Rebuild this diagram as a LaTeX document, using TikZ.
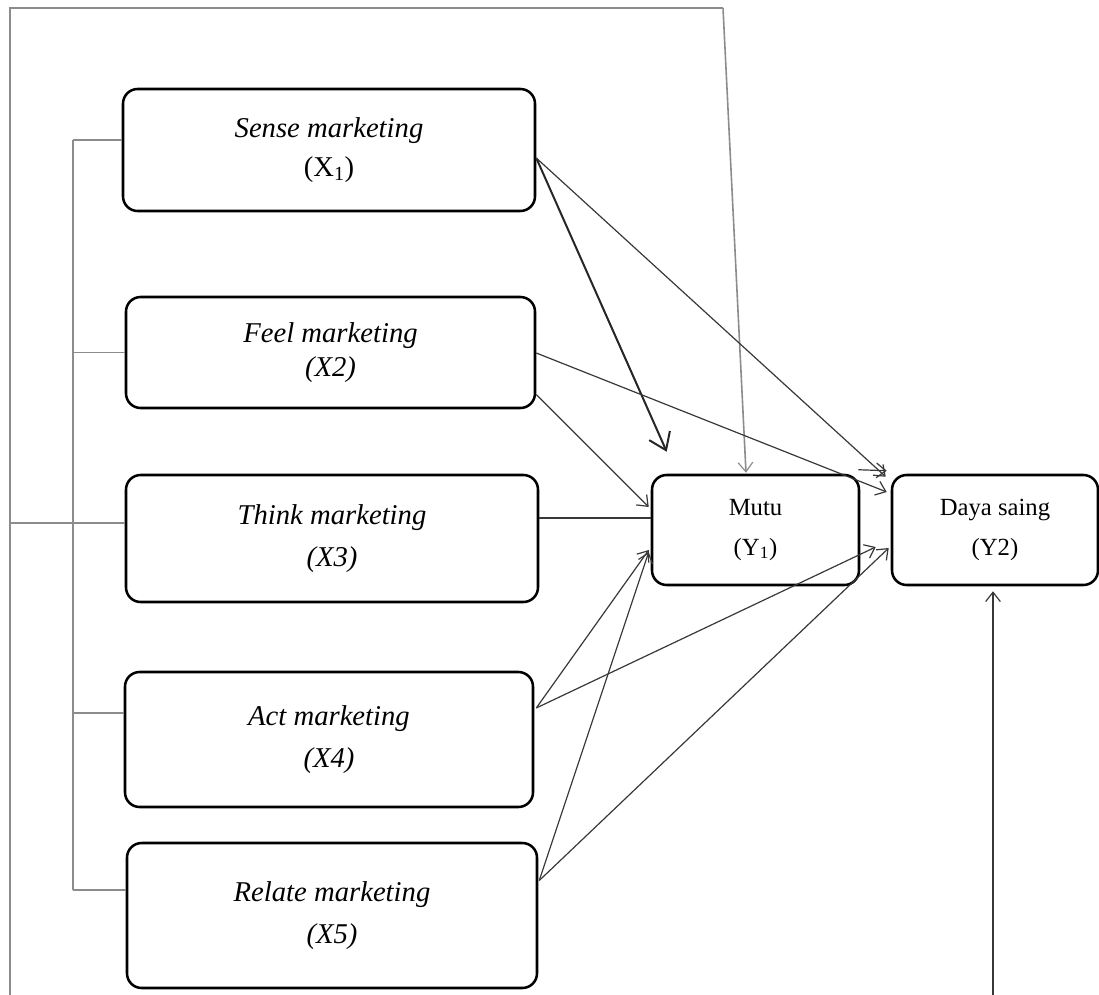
\documentclass[tikz,border=0pt]{standalone}
\usepackage{fontspec}
\setmainfont{Liberation Serif}
\usetikzlibrary{arrows.meta,calc}

\begin{document}
\begin{tikzpicture}[x=0.75pt,y=-0.75pt,
  box/.style={draw=black,line width=1.9pt,rounded corners=11pt,inner sep=0pt,align=center},
  srcbox/.style={box,font=\fontsize{21.5}{32}\selectfont\itshape},
  tgtbox/.style={box,font=\fontsize{18.5}{30}\selectfont},
  link/.style={draw=black!78,line width=0.9pt},
  arr/.style={link,-{Straight Barb[length=7pt,width=11pt,line width=0.9pt]}},
  boldarr/.style={draw=black!85,line width=1.5pt,-{Straight Barb[length=12pt,width=17pt,line width=1.5pt]}},
  frame/.style={draw=black!45,line width=1.2pt},
]
\useasboundingbox (0,0) rectangle (1099,995);

% source constructs
\node[srcbox,minimum width=309pt,minimum height=91.5pt] (sense) at (329,150)
  {Sense marketing\\[-3pt]\upshape (X\textsubscript{1})};
\node[srcbox,minimum width=306.75pt,minimum height=83.25pt] (feel) at (330.5,352.5)
  {Feel marketing\\[-6pt](X2)};
\node[srcbox,minimum width=309pt,minimum height=95.25pt] (think) at (332,538.5)
  {Think marketing\\(X3)};
\node[srcbox,minimum width=306pt,minimum height=101.25pt] (act) at (329,739.5)
  {Act marketing\\(X4)};
\node[srcbox,minimum width=307.5pt,minimum height=108.75pt] (relate) at (332,915.5)
  {Relate marketing\\(X5)};

% dependent constructs
\node[tgtbox,minimum width=155.25pt,minimum height=82.5pt] (mutu) at (755.5,530)
  {Mutu\\(Y\textsubscript{1})};
\node[tgtbox,minimum width=154.5pt,minimum height=82.5pt] (daya) at (995,530)
  {Daya saing\\(Y2)};

% bracket joining the five marketing constructs
\coordinate (bt) at (73,140);
\coordinate (bb) at (73,890);
\draw[frame] (bt) -- (bb);
\draw[frame] (bt) -- ($(sense.west)+(0,-10)$);
\draw[frame] (73,352.5) -- (feel.west);
\draw[frame] (73,523) -- ($(think.west)+(0,-15.5)$);
\draw[frame] (73,713) -- ($(act.west)+(0,-26.5)$);
\draw[frame] (bb) -- ($(relate.west)+(0,-25.5)$);

% outer frame line
\coordinate (ftl) at (10,8);
\coordinate (ftr) at (723,8);
\coordinate (fbl) at (10,995);
\draw[frame] (fbl) -- (ftl) -- (ftr);
\draw[frame,-{Straight Barb[length=7pt,width=11pt,line width=0.9pt]}] (ftr) -- ($(mutu.north)+(-9.5,-1)$);
\draw[frame] (10,523) -- ($(think.west)+(0,-15.5)$);

% paths from the marketing constructs
\coordinate (s1) at ($(sense.east)+(0,8)$);
\draw[boldarr] (s1) -- ($(mutu.north west)+(16,-22)$);
\draw[arr] (s1) -- ($(daya.north west)+(-5,3)$);
\draw[arr] ($(feel.east)+(0,0.5)$) -- ($(daya.west)+(-4,-38)$);
\draw[arr] ($(feel.east)+(0,42)$) -- ($(mutu.west)+(-2,-23)$);
\draw[link] ($(think.east)+(0,-20.5)$) -- ($(mutu.west)+(0,-12)$);
\coordinate (a1) at ($(act.east)+(2,-31.5)$);
\draw[arr] (a1) -- ($(mutu.west)+(-2,20)$);
\draw[arr] (a1) -- ($(daya.west)+(-15,17)$);
\coordinate (r1) at ($(relate.east)+(1,-35)$);
\draw[arr] (r1) -- ($(mutu.west)+(-2,22)$);
\draw[arr] (r1) -- ($(daya.west)+(-2,18)$);

% short link from Mutu to Daya saing
\draw[arr] ($(mutu.north east)+(-2,-4)$) -- ($(daya.north west)+(-4,-3)$);

% incoming path from below
\coordinate (bin) at (993,995);
\draw[link,-{Straight Barb[length=7pt,width=11pt,line width=0.9pt]}] (bin) -- ($(daya.south)+(-2,5)$);
\end{tikzpicture}
\end{document}
